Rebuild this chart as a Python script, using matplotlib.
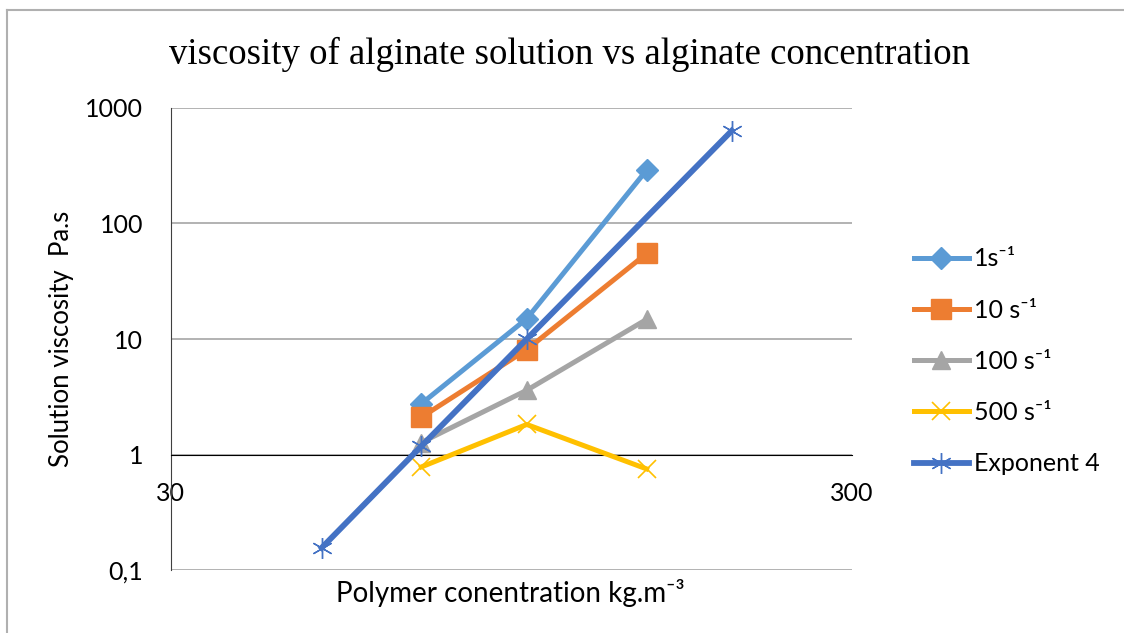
import numpy as np
import matplotlib
matplotlib.use("Agg")
import matplotlib.pyplot as plt
from matplotlib.ticker import NullLocator
from matplotlib.lines import Line2D

plt.rcParams['font.family'] = ['Lato', 'DejaVu Sans']

# concentrations kg/m3
conc = [70, 100, 150]
conc_exp = [50, 70, 100, 200]

visc_1 = [2.75, 15, 290]
visc_10 = [2.1, 8.1, 55]
visc_100 = [1.27, 3.6, 14.8]
visc_500 = [0.78, 1.82, 0.75]
visc_exp = [0.156, 1.18, 10, 635]

labels = ["1s\u207b\u00b9", "10 s\u207b\u00b9", "100 s\u207b\u00b9", "500 s\u207b\u00b9", "Exponent 4"]
colors = ["#5B9BD5", "#ED7D31", "#A5A5A5", "#FFC000", "#4472C4"]

yticks = [0.1, 1, 10, 100, 1000]
ytick_labels = ["0,1", "1", "10", "100", "1000"]
xticks = [30, 300]
xtick_labels = ["30", "300"]

fig = plt.figure(figsize=(11.24, 6.33), dpi=100)
ax = fig.add_axes([0.1519, 0.0995, 0.6058, 0.7299])

ax.plot(conc, visc_1, color=colors[0], lw=3.6, marker='D', ms=11, zorder=3, label=labels[0])
ax.plot(conc, visc_10, color=colors[1], lw=3.6, marker='s', ms=14, zorder=3, label=labels[1])
ax.plot(conc, visc_100, color=colors[2], lw=3.6, marker='^', ms=13, zorder=3, label=labels[2])
ax.plot(conc, visc_500, color=colors[3], lw=3.6, marker='x', ms=13, mew=1.2, zorder=3, label=labels[3])
ax.plot(conc_exp, visc_exp, color=colors[4], lw=4.2, marker=(6, 2, 0), ms=15, mew=1.0, zorder=4, label=labels[4])

ax.set_xscale('log')
ax.set_yscale('log')
ax.set_xlim(30, 300)
ax.set_ylim(0.1, 1000)

ax.set_xticks(xticks)
ax.set_xticklabels(xtick_labels)
ax.set_yticks(yticks)
ax.set_yticklabels(ytick_labels)
ax.xaxis.set_minor_locator(NullLocator())
ax.yaxis.set_minor_locator(NullLocator())
ax.tick_params(axis='x', length=0, pad=20, labelsize=18)
ax.tick_params(axis='y', length=0, pad=20, labelsize=18)

ax.spines['top'].set_visible(False)
ax.spines['right'].set_visible(False)
ax.spines['bottom'].set_position(('data', 1))
ax.spines['bottom'].set_color('black')
ax.spines['left'].set_color('#404040')
ax.spines['bottom'].set_zorder(2.6)
ax.yaxis.grid(True, color='#A6A6A6', lw=1.2)
ax.set_axisbelow(True)

ax.set_ylabel("Solution viscosity  Pa.s", fontsize=18.5)
ax.yaxis.set_label_coords(-0.142, 0.5)
fig.text(0.454, 0.063, "Polymer conentration kg.m\u207b\u00b3", fontsize=20, ha='center', va='center')

fig.text(0.507, 0.914, "viscosity of alginate solution vs alginate concentration",
         family='Liberation Serif', fontsize=26.5, ha='center', va='center')

leg = ax.legend(loc='upper left', bbox_to_anchor=(0.804, 0.625), bbox_transform=fig.transFigure,
                frameon=False, fontsize=18, handlelength=2.2, handletextpad=0.2,
                labelspacing=1.13, borderaxespad=0)

# chart area border
fig.add_artist(Line2D([7 / 1124, 1], [1 - 10 / 633, 1 - 10 / 633], color='#B0B0B0', lw=1.5, transform=fig.transFigure))
fig.add_artist(Line2D([7 / 1124, 7 / 1124], [0, 1 - 10 / 633], color='#B0B0B0', lw=1.5, transform=fig.transFigure))

fig.savefig("out.png", dpi=100)
